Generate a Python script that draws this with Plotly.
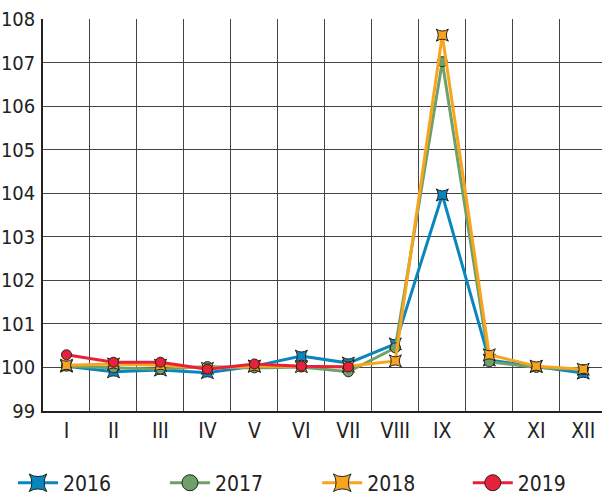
import plotly.graph_objects as go

months = ["I", "II", "III", "IV", "V", "VI", "VII", "VIII", "IX", "X", "XI", "XII"]
y2016 = [100.03, 99.90, 99.94, 99.88, 100.03, 100.26, 100.10, 100.54, 103.96, 100.17, 100.02, 99.87]
y2017 = [100.03, 99.99, 99.96, 100.02, 99.99, 100.01, 99.90, 100.45, 107.02, 100.13, 100.00, 99.95]
y2018 = [100.05, 100.08, 100.05, 99.98, 100.03, 100.02, 100.03, 100.15, 107.63, 100.29, 100.03, 99.96]
y2019 = [100.29, 100.12, 100.12, 99.96, 100.08, 100.03, 100.01]
years = ["2016", "2017", "2018", "2019"]

colors = ["#0a86be", "#6fa06a", "#f7a51c", "#e8213a"]
symbols = ["star-square", "circle", "star-square", "circle"]
series = [y2016, y2017, y2018, y2019]
legend_ids = ["legend", "legend2", "legend3", "legend4"]
legend_x = [0.0216, 0.274, 0.527, 0.777]

fig = go.Figure()
xs = list(range(1, 13))
for name, ys, c, s in zip(years, series, colors, symbols):
    fig.add_trace(go.Scatter(
        x=xs[:len(ys)], y=ys, name=name, mode="lines+markers", showlegend=False,
        line=dict(color=c, width=3),
        marker=dict(symbol=s, size=10 if s == "circle" else 11, color=c,
                    line=dict(color="#222", width=1)),
    ))
# legend entries with larger symbols
for name, c, s, lid in zip(years, colors, symbols, legend_ids):
    fig.add_trace(go.Scatter(
        x=[None], y=[None], name=name, mode="lines+markers", legend=lid,
        line=dict(color=c, width=3),
        marker=dict(symbol=s, size=16, color=c, line=dict(color="#222", width=1)),
    ))

font = "DejaVu Sans Condensed, sans-serif"
fs = 21
layout_legends = {}
for lid, lx in zip(legend_ids, legend_x):
    layout_legends[lid] = dict(orientation="h", xref="container", yref="container",
                               x=lx, y=0.028, xanchor="left", yanchor="middle",
                               font=dict(size=fs), itemwidth=40,
                               bgcolor="rgba(0,0,0,0)")

fig.update_layout(
    width=602, height=497,
    margin=dict(l=43, r=0, t=19, b=86),
    paper_bgcolor="white", plot_bgcolor="white",
    font=dict(family=font, size=fs, color="#222"),
    showlegend=True,
    xaxis=dict(range=[0.5, 12.4], tickvals=xs, ticktext=months,
               showgrid=False, zeroline=False, showline=True,
               linecolor="#222", linewidth=1.5, ticks="",
               ticklabelstandoff=0, automargin=False),
    yaxis=dict(range=[99, 108], dtick=1, showgrid=True, gridcolor="#444",
               gridwidth=1.3, zeroline=False, showline=True,
               linecolor="#222", linewidth=1.5, ticks="",
               tickfont=dict(size=20),
               ticklabelstandoff=2, automargin=False),
    **layout_legends,
)
fig.update_xaxes(minor=dict(tickvals=[i + 0.5 for i in range(0, 13)], showgrid=True,
                            gridcolor="#444", gridwidth=1.3))
fig.write_html("out.html", post_script="document.body.style.margin='0';",
               config={"displayModeBar": False})
